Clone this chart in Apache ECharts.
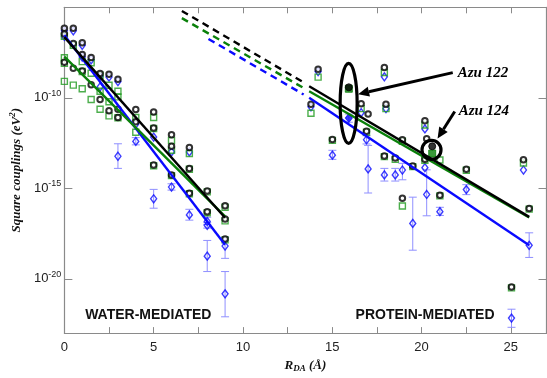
<!DOCTYPE html>
<html>
<head>
<meta charset="utf-8">
<script src="https://cdn.jsdelivr.net/npm/echarts@6/dist/echarts.min.js"></script>
<style>
  html, body { margin: 0; padding: 0; background: #fff; }
  #chart { width: 547px; height: 378px; }
</style>
</head>
<body>
<div id="chart"></div>
<script>
// values are log10 of the square couplings (eV^2), x is R_DA in Å

// water-mediated pathways
const waterBlack = [
  [0, -6.16], [0, -6.47], [0, -8.04],
  [0.5, -6.16], [0.5, -7.0], [0.5, -8.37],
  [1, -6.96], [1, -7.61], [1, -8.52],
  [1.5, -7.77], [1.5, -9.28],
  [2, -8.66], [2, -10.09],
  [2.5, -8.7], [2.5, -10.72],
  [3, -8.97], [3, -10.63], [3, -11.09],
  [4, -10.65], [4, -11.32],
  [5, -10.78], [5, -11.67], [5, -13.71],
  [6, -12.04], [6, -12.67], [6, -14.26],
  [7, -12.75], [7, -13.9], [7, -15.27],
  [8, -15.15], [8, -16.29],
  [9, -15.96], [9, -16.7], [9, -17.8]
];
const waterGreen = [
  [0, -6.6], [0, -7.79], [0, -8.1], [0, -9.09],
  [0.5, -7.1], [0.5, -9.3],
  [1, -8.0], [1, -8.55], [1, -9.5],
  [1.5, -8.06], [1.5, -8.64], [1.5, -10.09],
  [2, -8.75], [2, -9.64], [2, -10.63],
  [2.5, -9.31], [2.5, -10.22], [2.5, -11.0],
  [3, -9.64], [3, -9.95], [3, -11.1],
  [4, -11.09], [4, -11.9],
  [5, -11.09], [5, -11.7], [5, -13.75],
  [6, -12.36], [6, -12.9], [6, -14.3],
  [7, -13.08], [7, -13.95], [7, -15.3],
  [8, -15.2], [8, -16.35],
  [9, -16.05], [9, -16.8], [9, -17.85]
];
const waterBlue = [
  [0, -6.3], [0, -6.6], [0.5, -6.3], [1, -7.1], [1, -7.75],
  [1.5, -7.9], [2, -8.8], [2, -9.4], [2.5, -8.85], [3, -9.1],
  [3, -13.23], [4, -11.45], [4, -12.41], [5, -12.17], [5, -15.58],
  [6, -12.99], [6, -14.93], [7, -12.99], [7, -16.47],
  [8, -16.83], [8, -17.05], [8, -18.75], [9, -18.19], [9, -20.83]
];
// error ranges of the blue points: [x, low, high]
const waterBlueErr = [
  [3, -13.9, -12.54], [4, -12.6, -12.2], [5, -16.1, -15.06], [6, -15.1, -14.75],
  [7, -16.76, -16.16], [8, -17.0, -16.6], [8, -17.2, -16.9], [8, -19.6, -17.88],
  [9, -18.87, -17.7], [9, -22.1, -19.6]
];

// protein-mediated pathways
const proteinBlack = [
  [13.81, -10.36], [14.21, -8.42], [15.01, -12.3], [16.62, -10.33],
  [16.92, -11.85], [17.01, -10.9], [17.92, -8.32], [17.92, -13.21],
  [18.01, -10.36], [18.53, -13.33], [18.93, -12.32], [18.93, -15.55],
  [19.51, -13.77], [20.19, -11.27], [20.19, -13.4], [20.29, -12.26],
  [21.03, -15.38], [22.51, -13.95], [25.04, -20.45], [25.71, -13.42],
  [26.03, -16.12]
];
const proteinGreen = [
  [13.81, -10.85], [14.21, -8.86], [15.01, -12.35], [16.62, -10.6],
  [16.92, -11.9], [17.92, -8.6], [17.92, -13.25], [18.01, -10.6],
  [18.53, -13.4], [18.93, -12.4], [18.93, -15.98], [19.51, -13.8],
  [20.19, -11.5], [20.19, -13.45], [21.03, -13.44], [21.03, -15.42],
  [22.51, -14.0], [25.04, -20.5], [25.71, -13.6], [26.03, -16.15]
];
const proteinBlue = [
  [13.81, -10.5], [14.21, -8.55], [15.01, -13.17], [16.62, -10.82],
  [16.92, -12.32], [17.01, -13.93], [17.92, -8.84], [17.92, -14.26],
  [18.01, -10.6], [18.53, -14.26], [18.93, -13.99], [19.51, -16.94],
  [20.19, -11.72], [20.19, -13.86], [20.29, -15.34], [21.03, -16.29],
  [22.51, -15.07], [25.04, -22.17], [25.71, -13.99], [26.03, -18.15]
];
const proteinBlueErr = [
  [15.01, -13.4, -12.9], [16.92, -12.55, -12.1], [17.01, -15.26, -12.63],
  [17.92, -14.6, -13.9], [18.53, -14.6, -13.9], [18.93, -14.53, -13.62],
  [19.51, -18.42, -15.49], [20.29, -16.52, -13.98], [21.03, -16.5, -16.05],
  [22.51, -15.35, -14.8], [25.04, -22.68, -21.68], [26.03, -18.82, -17.46],
  [15.93, -11.35, -10.9]
];

// highlighted azurin mutants (filled symbols)
const azuBlack = [[15.93, -9.42], [20.6, -12.68]];
const azuGreen = [[15.93, -9.5], [20.6, -13.08]];
const azuBlue = [[15.93, -11.12]];

// exponential fits (straight in log scale)
const fitWaterBlack = [[0, -6.65], [9, -16.63]];
const fitWaterGreen = [[0, -7.73], [9, -16.55]];
const fitWaterBlue = [[0, -6.55], [9, -18.12]];
const fitProteinBlack = [[13.71, -9.36], [26.03, -16.58]];
const fitProteinGreen = [[13.71, -9.64], [26.03, -16.61]];
const fitProteinBlue = [[13.71, -10.0], [26.03, -18.15]];
const extraBlack = [[6.58, -5.2], [13.4, -9.15]];
const extraGreen = [[6.58, -5.6], [13.4, -9.46]];
const extraBlue = [[8.07, -6.75], [13.4, -9.82]];

const xTicks = [0, 2.5, 5, 7.5, 10, 12.5, 15, 17.5, 20, 22.5, 25];
const xLabels = [0, 5, 10, 15, 20, 25];
const yTicks = [-20, -15, -10, -5];
const yLabels = [-20, -15, -10];

const BLACK = '#000';
const GREEN = '#1f9a1f';
const GREEN_LINE = '#0a800a';
const BLUE = '#0a0aff';
const ERR = '#8f8fff';
const AXIS = '#8a8a8a';

const chart = echarts.init(document.getElementById('chart'));

function axisX(pos, labels) {
  return {
    type: 'value', position: pos, min: 0, max: 27,
    axisLine: { onZero: false, lineStyle: { color: AXIS, width: 1.2 } },
    axisTick: { inside: true, length: 6, customValues: xTicks, lineStyle: { color: AXIS } },
    axisLabel: labels ? {
      customValues: xLabels, margin: 8, color: '#222', fontSize: 13,
      fontFamily: 'Liberation Sans'
    } : { show: false },
    splitLine: { show: false }
  };
}
function axisY(pos, labels) {
  return {
    type: 'value', position: pos, min: -23, max: -5,
    axisLine: { onZero: false, lineStyle: { color: AXIS, width: 1.2 } },
    axisTick: { inside: true, length: 8, customValues: yTicks, lineStyle: { color: AXIS } },
    axisLabel: labels ? {
      customValues: yLabels, margin: 3,
      formatter: v => '{b|10}{s|' + v + '}',
      rich: {
        b: { fontSize: 13, color: '#222', fontFamily: 'Liberation Sans' },
        s: { fontSize: 9, color: '#222', fontFamily: 'Liberation Sans', padding: [0, 0, 9, 0] }
      }
    } : { show: false },
    splitLine: { show: false }
  };
}

function scatter(data, symbol, size, color, border, fill, z) {
  return {
    type: 'scatter', data: data, symbol: symbol, symbolSize: size, z: z,
    xAxisIndex: 0, yAxisIndex: 0, silent: true,
    itemStyle: { color: fill, borderColor: color, borderWidth: border }
  };
}
function line(data, color, width, dashed, z) {
  return {
    type: 'line', data: data, symbol: 'none', z: z, silent: true,
    lineStyle: { color: color, width: width, type: dashed ? [7, 5] : 'solid' }
  };
}

function renderErr(params, api) {
  const x = api.value(0);
  const lo = api.coord([x, api.value(1)]);
  const hi = api.coord([x, api.value(2)]);
  const w = 4;
  const st = { stroke: ERR, lineWidth: 1 };
  return {
    type: 'group',
    children: [
      { type: 'line', shape: { x1: lo[0], y1: lo[1], x2: hi[0], y2: hi[1] }, style: st },
      { type: 'line', shape: { x1: lo[0] - w, y1: lo[1], x2: lo[0] + w, y2: lo[1] }, style: st },
      { type: 'line', shape: { x1: hi[0] - w, y1: hi[1], x2: hi[0] + w, y2: hi[1] }, style: st }
    ]
  };
}

function arrow(a, b) {
  const dx = b[0] - a[0], dy = b[1] - a[1];
  const len = Math.sqrt(dx * dx + dy * dy);
  const ux = dx / len, uy = dy / len;
  const hl = 11, hw = 5;
  const base = [b[0] - ux * hl, b[1] - uy * hl];
  return [
    { type: 'line', shape: { x1: a[0], y1: a[1], x2: base[0], y2: base[1] },
      style: { stroke: BLACK, lineWidth: 3 } },
    { type: 'polygon', shape: { points: [b,
        [base[0] - uy * hw, base[1] + ux * hw], [base[0] + uy * hw, base[1] - ux * hw]] },
      style: { fill: BLACK } }
  ];
}

function renderNotes(params, api) {
  const c122 = api.coord([15.92, -10.31]);
  const c124 = api.coord([20.56, -12.88]);
  const t122 = api.coord([22.03, -8.65]);
  const t124 = api.coord([22.08, -10.72]);
  const noteFont = 'italic bold 15px "Liberation Serif"';
  const tagFont = 'bold 14px "Liberation Sans"';
  return {
    type: 'group',
    children: [
      { type: 'ellipse', shape: { cx: c122[0], cy: c122[1], rx: 8.5, ry: 40 },
        style: { fill: 'none', stroke: BLACK, lineWidth: 3.2 } },
      { type: 'circle', shape: { cx: c124[0], cy: c124[1], r: 9.5 },
        style: { fill: 'none', stroke: BLACK, lineWidth: 3.2 } },
      ...arrow(api.coord([21.75, -8.61]), api.coord([16.45, -9.8])),
      ...arrow(api.coord([21.86, -10.76]), api.coord([20.9, -12.25])),
      { type: 'text', x: t122[0], y: t122[1],
        style: { text: 'Azu 122', font: noteFont, fill: BLACK, verticalAlign: 'middle' } },
      { type: 'text', x: t124[0], y: t124[1],
        style: { text: 'Azu 124', font: noteFont, fill: BLACK, verticalAlign: 'middle' } },
      { type: 'text', x: api.coord([4.7, 0])[0], y: api.coord([0, -22.0])[1],
        style: { text: 'WATER-MEDIATED', font: tagFont, fill: '#111', align: 'center', verticalAlign: 'middle' } },
      { type: 'text', x: api.coord([20.2, 0])[0], y: api.coord([0, -22.0])[1],
        style: { text: 'PROTEIN-MEDIATED', font: tagFont, fill: '#111', align: 'center', verticalAlign: 'middle' } }
    ]
  };
}

const option = {
  animation: false,
  backgroundColor: '#fff',
  grid: { left: 61.5, right: 0.5, top: 7.3, bottom: 38 },
  xAxis: [
    Object.assign(axisX('bottom', true), {
      name: '{i|R}{sub|DA}{i| (Å)}', nameLocation: 'middle', nameGap: 21,
      nameTextStyle: {
        rich: {
          i: { fontFamily: 'Liberation Serif', fontStyle: 'italic', fontWeight: 'bold', fontSize: 13, color: '#111' },
          sub: { fontFamily: 'Liberation Serif', fontStyle: 'italic', fontWeight: 'bold', fontSize: 9, color: '#111', padding: [6, 0, 0, 0] }
        }
      }
    }),
    axisX('top', false)
  ],
  yAxis: [
    Object.assign(axisY('left', true), {
      name: '{i|Square couplings (eV}{sup|2}{i|)}', nameLocation: 'middle', nameGap: 37,
      nameTextStyle: {
        rich: {
          i: { fontFamily: 'Liberation Serif', fontStyle: 'italic', fontWeight: 'bold', fontSize: 13, color: '#111' },
          sup: { fontFamily: 'Liberation Serif', fontStyle: 'italic', fontWeight: 'bold', fontSize: 9, color: '#111', padding: [0, 0, 8, 0] }
        }
      }
    }),
    axisY('right', false)
  ],
  series: [
    { type: 'custom', data: waterBlueErr, renderItem: renderErr, z: 2, silent: true },
    { type: 'custom', data: proteinBlueErr, renderItem: renderErr, z: 2, silent: true },
    scatter(waterBlue, 'diamond', [6, 8], BLUE, 1.4, 'rgba(255,255,255,0)', 3),
    scatter(proteinBlue, 'diamond', [6, 8], BLUE, 1.4, 'rgba(255,255,255,0)', 3),
    scatter(waterGreen, 'rect', 6, GREEN, 1.4, 'rgba(255,255,255,0)', 4),
    scatter(proteinGreen, 'rect', 6, GREEN, 1.4, 'rgba(255,255,255,0)', 4),
    scatter(waterBlack, 'circle', 5.5, BLACK, 2, '#fff', 5),
    scatter(proteinBlack, 'circle', 5.5, BLACK, 2, '#fff', 5),
    scatter(azuBlue, 'diamond', [7, 9], BLUE, 1, BLUE, 3),
    scatter(azuGreen, 'rect', 7, GREEN_LINE, 1, GREEN_LINE, 4),
    scatter(azuBlack, 'circle', 7, BLACK, 1, BLACK, 5),
    line(fitWaterBlue, BLUE, 2.4, false, 6),
    line(fitWaterGreen, GREEN_LINE, 2.4, false, 6),
    line(fitWaterBlack, BLACK, 2.4, false, 6),
    line(fitProteinBlue, BLUE, 2.4, false, 6),
    line(fitProteinGreen, GREEN_LINE, 2.4, false, 6),
    line(fitProteinBlack, BLACK, 2.4, false, 6),
    line(extraBlue, BLUE, 2.4, true, 6),
    line(extraGreen, GREEN_LINE, 2.4, true, 6),
    line(extraBlack, BLACK, 2.4, true, 6),
    { type: 'custom', data: [[0, 0]], renderItem: renderNotes, z: 10, silent: true, clip: false }
  ]
};
chart.setOption(option);
</script>
</body>
</html>
